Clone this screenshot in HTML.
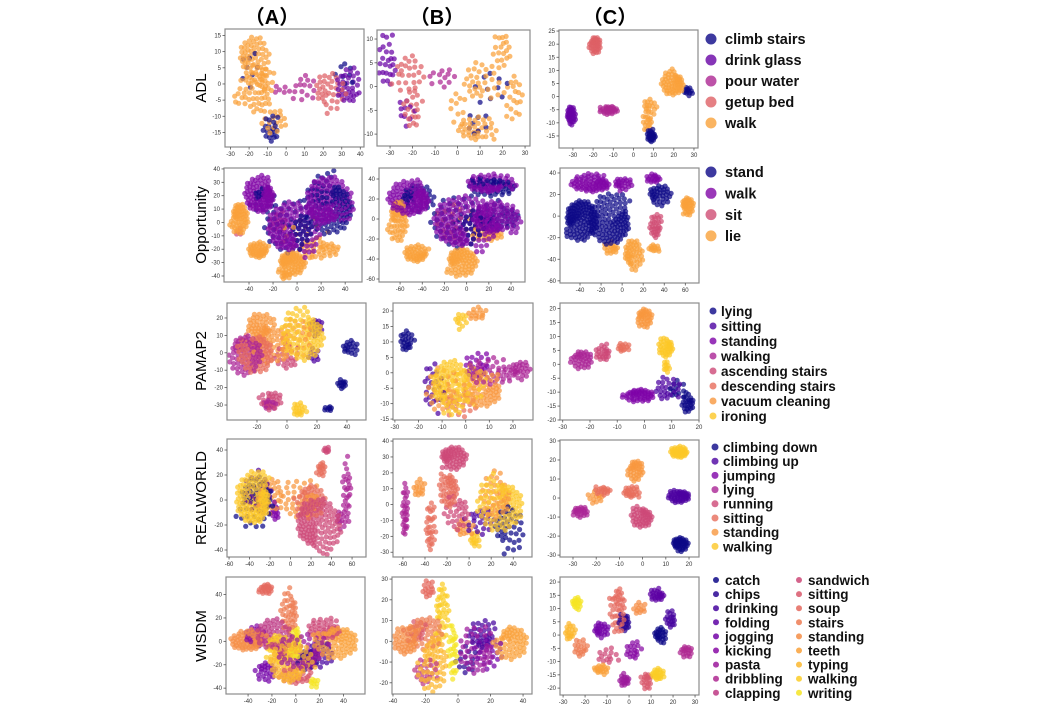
<!DOCTYPE html>
<html><head><meta charset="utf-8"><style>
html,body{margin:0;padding:0;background:#fff;}
svg{display:block;}
text{font-family:"Liberation Sans","Noto Sans CJK JP",sans-serif;}
</style></head><body>
<svg id="fig" width="1059" height="706" viewBox="0 0 1059 706" xmlns="http://www.w3.org/2000/svg">
<rect width="1059" height="706" fill="#fff"/>
</svg>
<script>
// ---- data: cluster lists [classIndex, x, y, spreadX, spreadY, count] ----
const adlA=[[4,-18,8,6,5,60],[4,-15,-2,5,5,40],[4,-25,-4,3,2,8],[0,-20,5,4,4,8],[0,-8,-14,3,3,20],[4,-6,-11,5,3,20],[2,10,-1,5,3,15],[2,-2,-2,4,1,6],[3,23,-2,6,4,35],[1,34,-1,5,4,35],[0,32,3,4,3,8],[4,-10,2,3,3,10]];
const adlB=[[1,-31,5,3,4,25],[1,-23,-5,3,2,10],[3,-22,3,5,3,25],[3,-20,-5,3,3,20],[2,-7,2,5,1.5,12],[4,20,8,3,3,20],[4,10,1,6,3,30],[4,25,-2,3,4,20],[4,8,-9,6,2,35],[0,8,-8,4,2,8],[0,15,0,6,3,10],[4,0,-4,3,3,10]];
const adlC=[[3,-19,20,2.5,3,30],[1,-31,-7,2,3,30],[2,-12,-5,4,1.5,25],[4,20,5,5,4,50],[4,8,-4,3,3,15],[4,7,-10,2,3,12],[0,9,-15,2,2,20],[0,27,2,2,1.5,10]];
const oppA=[[1,-30,20,9,9,60],[0,-28,18,7,7,15],[3,-48,4,5,8,40],[3,-32,-21,6,4,30],[3,-5,-30,8,6,50],[1,-5,-5,15,14,80],[0,-5,-5,14,13,40],[1,25,15,13,13,80],[0,28,12,14,15,70],[3,20,-20,12,5,25],[3,5,-10,15,10,12],[2,-48,-7,2,2,3],[3,-10,-40,3,2,5],[2,-15,0,6,5,8]];
const oppB=[[1,-50,20,14,12,70],[0,-45,22,12,10,25],[3,-62,0,6,15,40],[3,-45,-35,8,6,30],[3,-5,-42,10,10,50],[1,-5,-5,20,20,90],[0,-5,-5,18,18,40],[1,25,0,15,12,60],[0,30,2,14,10,25],[1,20,35,15,7,40],[0,25,32,15,7,30],[3,20,-15,10,5,20],[3,-10,-5,15,15,15]];
const oppC=[[1,-28,30,17,7,60],[1,0,30,8,5,20],[1,30,35,6,4,15],[0,-40,-2,14,16,100],[0,-10,-5,18,20,100],[0,35,20,10,8,30],[3,62,10,5,7,30],[2,32,-10,5,10,25],[3,10,-35,8,12,40],[3,-10,-30,6,5,15],[3,30,-30,5,3,10]];
const pamA=[[3,-28,0,8,8,50],[5,-20,0,8,8,50],[6,-18,15,6,5,30],[6,-10,5,8,7,30],[7,12,10,10,10,60],[6,5,10,8,8,20],[1,20,15,3,4,10],[0,42,3,4,3,12],[0,37,-18,2,2,8],[4,-10,-27,5,4,15],[3,-12,-30,3,2,10],[7,8,-33,3,3,12],[0,28,-32,2,1,5],[1,18,-2,3,3,6],[4,0,-3,6,5,15]];
const pamB=[[0,-25,10,2,2.5,15],[7,-2,17,2,2,8],[6,5,19,3,1.5,10],[7,-7,-4,6,6,60],[6,-10,-6,5,5,20],[1,-14,-5,3,6,15],[6,8,-6,6,4,40],[3,12,0,8,3,30],[3,23,1,3,2,15],[2,5,2,4,3,15],[7,2,-3,5,5,20],[5,-3,-10,5,3,15]];
const pamC=[[3,-23,2,3.5,3,30],[4,-15,4,2.5,2.5,20],[5,-8,6,2,1.5,12],[6,0,17,2.5,3,30],[7,8,6,2.5,3,30],[7,8,-1,1,2,8],[2,-2,-11,5,2,40],[1,8,-9,4,4,20],[0,16,-14,2,3,20],[0,12,-9,3,3,10]];
const rwA=[[7,-35,0,12,14,80],[0,-35,0,12,15,30],[1,-30,5,10,12,20],[6,-20,5,8,10,20],[4,25,-20,15,15,80],[5,20,0,10,10,30],[6,10,0,15,10,30],[3,55,10,3,15,15],[3,50,-15,5,5,10],[5,30,25,3,4,10],[4,35,40,2,2,5],[2,-15,-10,3,5,8]];
const rwB=[[4,-15,30,9,5,40],[5,-18,10,6,8,30],[6,-45,10,4,4,10],[3,-58,-5,2,12,20],[5,-35,-15,3,12,20],[4,-10,-5,8,8,20],[7,30,0,15,12,60],[0,35,-15,10,10,25],[6,25,5,10,10,30],[7,5,-22,3,4,10],[1,10,-10,10,6,15],[6,-5,-15,6,4,10]];
const rwC=[[7,16,24,3.5,2.5,35],[6,-3,15,3,5,30],[5,-5,3,3,3,20],[5,-17,4,3,2,15],[3,-27,-7,3,2.5,20],[4,0,-10,4,5,40],[1,16,1,4,3,40],[0,16,-24,3,3,35],[6,-20,0,3,3,10]];
const wiA=[[13,-40,0,10,6,40],[8,-20,5,10,10,40],[16,-15,-5,8,8,30],[15,-5,-20,12,12,50],[6,5,-10,15,10,40],[17,0,0,3,10,20],[14,35,0,12,10,50],[9,25,10,10,6,30],[2,20,-10,8,8,20],[11,-25,45,4,3,15],[12,-5,25,5,12,25],[4,-25,-25,6,6,15],[1,10,-15,6,6,15],[17,15,-35,3,3,6],[10,0,-30,10,5,20],[5,-35,5,6,6,15]];
const wiB=[[13,-32,0,6,5,30],[12,-20,5,8,6,30],[16,-10,15,3,10,25],[17,-3,-5,2,10,20],[15,-15,-10,6,10,40],[8,-20,-15,5,5,15],[6,12,-5,8,8,30],[2,15,3,6,5,20],[14,33,0,7,6,40],[4,20,-5,6,6,15],[11,-18,25,3,3,10],[1,5,-10,5,5,10],[10,-25,5,4,4,10]];
const wiC=[[17,-24,12,2,2,15],[15,-27,1,2,3,15],[12,-22,-5,3,3,15],[14,-13,-13,3,1.5,15],[4,-13,2,3,2.5,20],[11,-5,10,3,8,35],[1,-2,5,2,3,20],[3,13,15,3,2,20],[5,2,-6,3,3,15],[0,14,0,2.5,2.5,20],[6,-2,-17,2,2,15],[10,8,-17,2,3,15],[16,13,-15,2.5,2,20],[2,19,6,2,3,15],[7,26,-6,2.5,2,15],[13,5,10,3,2,10],[9,-10,-8,4,3,12]];

const adlLabels=["climb stairs","drink glass","pour water","getup bed","walk"];
const oppLabels=["stand","walk","sit","lie"];
const pamLabels=["lying","sitting","standing","walking","ascending stairs","descending stairs","vacuum cleaning","ironing"];
const rwLabels=["climbing down","climbing up","jumping","lying","running","sitting","standing","walking"];
const wiLabels=["catch","chips","drinking","folding","jogging","kicking","pasta","dribbling","clapping","sandwich","sitting","soup","stairs","standing","teeth","typing","walking","writing"];

// axis limits [xmin,xmax,ymin,ymax] and tick specs [xstart,xend,xstep,ystart,yend,ystep]
const lims={adlA:[-33,42,-19.5,17],adlB:[-35.8,32.2,-12.5,11.9],adlC:[-36.9,32,-19.6,25.4],
oppA:[-60.8,54,-44.5,40.7],oppB:[-79,52.6,-63,51],oppC:[-59,73,-62,44.6],
pamA:[-40,52.7,-38.6,28.6],pamB:[-30.8,28.5,-15.3,22.6],pamC:[-31,20,-20,22],
rwA:[-62,73.6,-45.6,48.8],rwB:[-69,57,-33,41.3],rwC:[-35.6,24.3,-31,30.5],
wiA:[-58.5,58,-45,55],wiB:[-40.6,45.5,-25.4,31],wiC:[-31.4,31.8,-22.6,21.9]};
const ticks={adlA:[-30,40,10,-15,15,5],adlB:[-30,30,10,-10,10,5],adlC:[-30,30,10,-15,25,5],
oppA:[-40,40,20,-40,40,10],oppB:[-60,40,20,-60,40,20],oppC:[-40,60,20,-60,40,20],
pamA:[-20,40,20,-30,20,10],pamB:[-30,20,10,-15,20,5],pamC:[-30,20,10,-20,20,5],
rwA:[-60,60,20,-40,40,20],rwB:[-60,40,20,-30,40,10],rwC:[-30,20,10,-30,30,10],
wiA:[-40,40,20,-40,40,20],wiB:[-40,40,20,-20,30,10],wiC:[-30,30,10,-20,20,5]};

// ---- layout ----
const frames={adlA:[225,29,364,147],adlB:[377,30,530,146],adlC:[559,30,698,148],
oppA:[224,168,362,282],oppB:[379,168,525,282],oppC:[560,168,699,283],
pamA:[227,303,366,420],pamB:[393,303,533,420],pamC:[560,303,699,420],
rwA:[227,439,366,557],rwB:[393,439,532,557],rwC:[560,440,699,557],
wiA:[226,577,365,694],wiB:[392,577,532,694],wiC:[560,577,699,695]};
const NS="http://www.w3.org/2000/svg";
const svg=document.getElementById('fig');
const stops=[[13,8,135],[76,2,161],[126,3,168],[169,35,149],[204,71,120],[230,108,92],[248,149,64],[253,197,39],[240,249,33]];
function plasma(t){const f=t*8,i=Math.min(7,Math.floor(f)),u=f-i;const a=stops[i],b=stops[i+1];
 return 'rgb('+a.map((v,k)=>Math.round(v+(b[k]-v)*u)).join(',')+')';}
function colorFor(i,k,s){return plasma(k>1?i/(k-1)*s:0);}
function el(tag,attrs,parent){const e=document.createElementNS(NS,tag);for(const k in attrs)e.setAttribute(k,attrs[k]);(parent||svg).appendChild(e);return e;}

function drawPanel(key,clusters,nCls,scale,name,spreadMul,countMul){
 const [x0,y0,x1,y1]=frames[key];const [a,b,c,d]=lims[key];
 const sx=v=>x0+(v-a)/(b-a)*(x1-x0), sy=v=>y1-(v-c)/(d-c)*(y1-y0);
 const g=el('g',{});
 
 
 const pts=el('g',{'fill-opacity':0.72},g);
 
 
 const counts=clusters.map(q=>Math.round(q[5]*countMul));
 const maxN=Math.max(...counts);
 for(let j=0;j<maxN;j++){
  clusters.forEach((q,ci)=>{const [cl,cx,cy,rx,ry]=q;const n=counts[ci];if(j>=n)return;
   const fr=(j*0.618034+ci*0.37)%1;
   const r=Math.sqrt((j+0.5)/n)*(0.75+0.5*fr),th=j*2.39996+cl+ci;
   const px=sx(cx+rx*spreadMul*r*Math.cos(th)),py=sy(cy+ry*spreadMul*r*Math.sin(th));
   if(px<x0+2||px>x1-2||py<y0+2||py>y1-2)return;
   const p=el('circle',{cx:px.toFixed(1),cy:py.toFixed(1),r:2.6,fill:colorFor(cl,nCls,scale)},pts);
   
   
  });
 }
 const fr=el('rect',{x:x0,y:y0,width:x1-x0,height:y1-y0,fill:'none',stroke:'#8c8c8c','stroke-width':1.2},g);
 
 
 const t=ticks[key];
 for(let v=t[0];v<=t[1]+1e-9;v+=t[2]){const x=sx(v);
  el('line',{x1:x,x2:x,y1:y1,y2:y1+2.5,stroke:'#555','stroke-width':0.8},g);
  const tx=el('text',{x:x,y:y1+9,'font-size':6,'text-anchor':'middle',fill:'#333'},g);tx.textContent=v;
  
  }
 for(let v=t[3];v<=t[4]+1e-9;v+=t[5]){const y=sy(v);
  el('line',{x1:x0-2.5,x2:x0,y1:y,y2:y,stroke:'#555','stroke-width':0.8},g);
  const ty=el('text',{x:x0-4,y:y+2,'font-size':6,'text-anchor':'end',fill:'#333'},g);ty.textContent=v;
  
  }
}
const MA=1.45,MB=1.4,MC=1.15,CA=1.5,CB=1.5,CC=1.2;
drawPanel('adlA',adlA,5,0.78,'adl-a-plot',MA,1);drawPanel('adlB',adlB,5,0.78,'adl-b-plot',MB,1);drawPanel('adlC',adlC,5,0.78,'adl-c-plot',MC,CC);
drawPanel('oppA',oppA,4,0.78,'opportunity-a-plot',MA,CA);drawPanel('oppB',oppB,4,0.78,'opportunity-b-plot',MB,CB);drawPanel('oppC',oppC,4,0.78,'opportunity-c-plot',MC,CC);
drawPanel('pamA',pamA,8,0.88,'pamap2-a-plot',MA,CA);drawPanel('pamB',pamB,8,0.88,'pamap2-b-plot',MB,CB);drawPanel('pamC',pamC,8,0.88,'pamap2-c-plot',MC,CC);
drawPanel('rwA',rwA,8,0.88,'realworld-a-plot',MA,CA);drawPanel('rwB',rwB,8,0.88,'realworld-b-plot',MB,CB);drawPanel('rwC',rwC,8,0.88,'realworld-c-plot',MC,CC);
drawPanel('wiA',wiA,18,0.95,'wisdm-a-plot',MA,CA);drawPanel('wiB',wiB,18,0.95,'wisdm-b-plot',MB,CB);drawPanel('wiC',wiC,18,0.95,'wisdm-c-plot',MC,CC);

// column titles
[["（A）",272],["（B）",437],["（C）",610]].forEach(([s,x])=>{
 const t=el('text',{x:x,y:24,'font-size':20,'font-weight':'bold','text-anchor':'middle',fill:'#000'});t.textContent=s;
 
 });
// row labels
[["ADL",88],["Opportunity",225],["PAMAP2",361],["REALWORLD",498],["WISDM",636]].forEach(([s,y])=>{
 const t=el('text',{x:0,y:0,'font-size':15,'text-anchor':'middle',fill:'#000',transform:'translate(206,'+y+') rotate(-90)'});t.textContent=s;
 
 });

function legend(labels,nCls,scale,x,y0,dy,r,fs,name,tx){
 const g=el('g',{});
 
 
 labels.forEach((s,i)=>{const y=y0+i*dy;
  const c=el('circle',{cx:x,cy:y,r:r,fill:colorFor(i,nCls,scale),'fill-opacity':0.8},g);
  
  
  const t=el('text',{x:x+tx,y:y+fs*0.36,'font-size':fs,'font-weight':'bold',fill:'#111'},g);t.textContent=s;
  
  });
}
legend(adlLabels,5,0.78,711,39,21,5.5,14.5,'adl-legend',14);
legend(oppLabels,4,0.78,711,172,21.3,5.5,14.5,'opportunity-legend',14);
legend(pamLabels,8,0.88,713,311,15,3.5,13.5,'pamap2-legend',8);
legend(rwLabels,8,0.88,715,447,14.2,3.5,13.5,'realworld-legend',8);
const g1=wiLabels.slice(0,9),g2=wiLabels.slice(9);
const wg=el('g',{});


[[g1,0,716],[g2,9,799]].forEach(([arr,off,x])=>{arr.forEach((s,i)=>{const y=580+i*14.1;
 const c=el('circle',{cx:x,cy:y,r:3,fill:colorFor(i+off,18,0.95),'fill-opacity':0.85},wg);
 
 
 const t=el('text',{x:x+9,y:y+5,'font-size':13.5,'font-weight':'bold',fill:'#111'},wg);t.textContent=s;
 
 });});
</script>
</body></html>
